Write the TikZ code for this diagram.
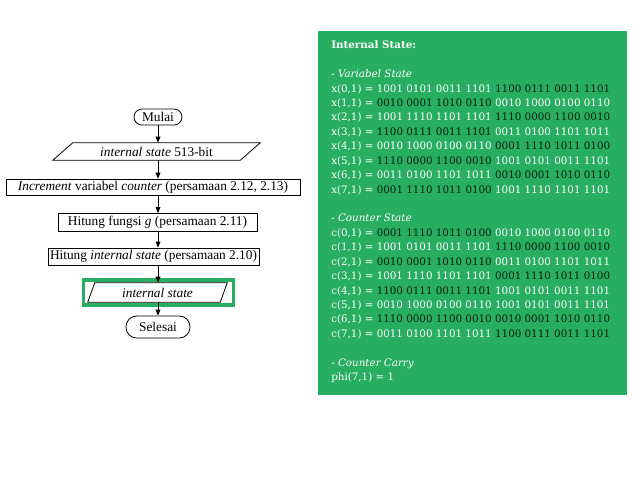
\documentclass[tikz,border=0pt]{standalone}
\usepackage{fontspec}
\setmainfont{Liberation Serif}
\newfontfamily\panelfont{DejaVu Serif}
\usetikzlibrary{arrows.meta,calc}
\definecolor{grn}{RGB}{39,174,96}
\definecolor{bk}{RGB}{8,32,16}
\newcommand\blk[1]{\textcolor{bk}{#1}}
\begin{document}
\begin{tikzpicture}[x=0.75pt,y=-0.75pt,
  box/.style={draw,inner sep=0pt,line width=0.6pt,font=\fontsize{10}{12}\selectfont},
  term/.style={box,rounded corners=6pt},
  io/.style={inner sep=0pt,font=\fontsize{10}{12}\selectfont},
  para/.style={line width=0.6pt},
  arr/.style={-{Triangle[length=4.5pt,width=3.6pt]},line width=0.6pt},
  pl/.style={anchor=base west,inner sep=0pt,text=white,font=\panelfont\fontsize{7.75}{9}\selectfont},
  hd/.style={pl,font=\panelfont\bfseries\fontsize{7.75}{9}\selectfont}]
\useasboundingbox (0,0) rectangle (640,480);
\fill[white] (0,0) rectangle (640,480);

% flowchart
\node[term,minimum width={48*0.75pt},minimum height={16*0.75pt}] (start) at (158,117) {Mulai};
\node[io,minimum width={207*0.75pt},minimum height={17*0.75pt}] (in) at (156.5,151.5) {\textit{internal state} 513-bit};
\draw[para] ($(in.north west)+(20,0)$) -- (in.north east) -- ($(in.south east)-(20,0)$) -- (in.south west) -- cycle;
\node[box,minimum width={294*0.75pt},minimum height={16*0.75pt}] (inc) at (153,187) {\textit{Increment} variabel \textit{counter} (persamaan 2.12, 2.13)};
\node[box,minimum width={199*0.75pt},minimum height={18*0.75pt}] (g) at (157.5,222.5) {Hitung fungsi \textit{g} (persamaan 2.11)};
\node[box,minimum width={211*0.75pt},minimum height={17*0.75pt}] (hi) at (153.5,256.5) {Hitung \textit{internal state} (persamaan 2.10)};
\node[draw=grn,line width=2.5pt,inner sep=0pt,minimum width={150*0.75pt},minimum height={25*0.75pt}] (hl) at (158.3,292.5) {};
\node[io,minimum width={139*0.75pt},minimum height={19*0.75pt}] (out) at (157.5,292.5) {\textit{internal state}};
\draw[para] ($(out.north west)+(7,0)$) -- (out.north east) -- ($(out.south east)-(7,0)$) -- (out.south west) -- cycle;
\node[term,rounded corners=8pt,minimum width={64*0.75pt},minimum height={22*0.75pt}] (end) at (158,327) {Selesai};

\draw[arr] (start.south) -- (start.south |- in.north);
\draw[arr] (start.south |- in.south) -- (start.south |- inc.north);
\draw[arr] (start.south |- inc.south) -- (start.south |- g.north);
\draw[arr] (start.south |- g.south) -- (start.south |- hi.north);
\draw[arr] (start.south |- hi.south) -- (start.south |- out.north);
\draw[arr] (start.south |- out.south) -- (end.north);

% panel
\fill[grn] (318,31) rectangle (627,395);
\node[hd] (l0) at (331,48.7) {Internal State:};
\node[pl] (l2) at (331,77.56) {- \textit{Variabel State}};
\node[pl] (l3) at (331,92.0) {x(0,1) = 1001 0101 0011 1101 \blk{1100 0111 0011 1101}};
\node[pl] (l4) at (331,106.4) {x(1,1) = \blk{0010 0001 1010 0110} 0010 1000 0100 0110};
\node[pl] (l5) at (331,120.9) {x(2,1) = 1001 1110 1101 1101 \blk{1110 0000 1100 0010}};
\node[pl] (l6) at (331,135.3) {x(3,1) = \blk{1100 0111 0011 1101} 0011 0100 1101 1011};
\node[pl] (l7) at (331,149.7) {x(4,1) = 0010 1000 0100 0110 \blk{0001 1110 1011 0100}};
\node[pl] (l8) at (331,164.3) {x(5,1) = \blk{1110 0000 1100 0010} 1001 0101 0011 1101};
\node[pl] (l9) at (331,178.7) {x(6,1) = 0011 0100 1101 1011 \blk{0010 0001 1010 0110}};
\node[pl] (l10) at (331,193.0) {x(7,1) = \blk{0001 1110 1011 0100} 1001 1110 1101 1101};
\node[pl] (l12) at (331,221.9) {- \textit{Counter State}};
\node[pl] (l13) at (331,236.3) {c(0,1) = \blk{0001 1110 1011 0100} 0010 1000 0100 0110};
\node[pl] (l14) at (331,250.7) {c(1,1) = 1001 0101 0011 1101 \blk{1110 0000 1100 0010}};
\node[pl] (l15) at (331,265.2) {c(2,1) = \blk{0010 0001 1010 0110} 0011 0100 1101 1011};
\node[pl] (l16) at (331,279.6) {c(3,1) = 1001 1110 1101 1101 \blk{0001 1110 1011 0100}};
\node[pl] (l17) at (331,294.0) {c(4,1) = \blk{1100 0111 0011 1101} 1001 0101 0011 1101};
\node[pl] (l18) at (331,308.5) {c(5,1) = 0010 1000 0100 0110 1001 0101 0011 1101};
\node[pl] (l19) at (331,322.9) {c(6,1) = \blk{1110 0000 1100 0010 0010 0001 1010 0110}};
\node[pl] (l20) at (331,337.3) {c(7,1) = 0011 0100 1101 1011 \blk{1100 0111 0011 1101}};
\node[pl] (l22) at (331,366.2) {- \textit{Counter Carry}};
\node[pl] (l23) at (331,380.6) {phi(7,1) = 1};
\end{tikzpicture}
\end{document}
